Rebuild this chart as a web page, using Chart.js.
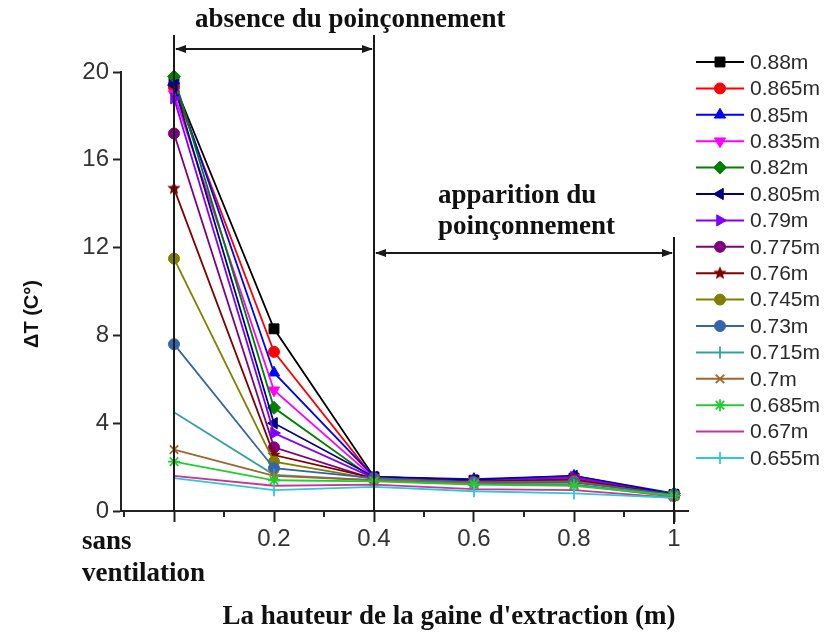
<!DOCTYPE html>
<html>
<head>
<meta charset="utf-8">
<script src="https://cdn.jsdelivr.net/npm/chart.js@4/dist/chart.umd.min.js"></script>
<style>
  html, body { margin: 0; padding: 0; background: #ffffff; }
  #wrap { position: relative; width: 827px; height: 636px; }
</style>
</head>
<body>
<div id="wrap"><canvas id="c" width="827" height="636"></canvas></div>
<script>
// Extraction duct heights (m); 0 stands for "sans ventilation"
const positions = [0, 0.2, 0.4, 0.6, 0.8, 1.0];
const xTickValues = [0, 0.2, 0.4, 0.6, 0.8, 1.0];
const xMinorTicks = [-0.1, 0.1, 0.3, 0.5, 0.7, 0.9];
const yTickValues = [0, 4, 8, 12, 16, 20];

const seriesNames = ['0.88m', '0.865m', '0.85m', '0.835m', '0.82m', '0.805m', '0.79m', '0.775m',
                     '0.76m', '0.745m', '0.73m', '0.715m', '0.7m', '0.685m', '0.67m', '0.655m'];

// Temperature difference ΔT (°C) for each fire height
const dT_088  = [19.5, 8.3,  1.55, 1.40, 1.50, 0.75];
const dT_0865 = [19.3, 7.25, 1.50, 1.35, 1.45, 0.70];
const dT_085  = [19.6, 6.3,  1.55, 1.45, 1.60, 0.80];
const dT_0835 = [19.0, 5.5,  1.50, 1.35, 1.50, 0.75];
const dT_082  = [19.8, 4.7,  1.45, 1.30, 1.30, 0.80];
const dT_0805 = [19.4, 4.0,  1.55, 1.40, 1.60, 0.75];
const dT_079  = [18.8, 3.55, 1.50, 1.35, 1.55, 0.70];
const dT_0775 = [17.2, 2.9,  1.45, 1.30, 1.45, 0.70];
const dT_076  = [14.7, 2.55, 1.50, 1.35, 1.40, 0.75];
const dT_0745 = [11.5, 2.25, 1.45, 1.30, 1.35, 0.70];
const dT_073  = [7.6,  1.95, 1.50, 1.30, 1.30, 0.75];
const dT_0715 = [4.5,  1.65, 1.40, 1.25, 1.20, 0.70];
const dT_07   = [2.8,  1.6,  1.40, 1.25, 1.20, 0.65];
const dT_0685 = [2.25, 1.4,  1.35, 1.20, 1.15, 0.70];
const dT_067  = [1.6,  1.15, 1.20, 1.00, 0.95, 0.60];
const dT_0655 = [1.5,  0.95, 1.10, 0.90, 0.80, 0.60];

const seriesValues = [dT_088, dT_0865, dT_085, dT_0835, dT_082, dT_0805, dT_079, dT_0775,
                      dT_076, dT_0745, dT_073, dT_0715, dT_07, dT_0685, dT_067, dT_0655];

const seriesColors = ['#000000', '#ff0000', '#0000ff', '#ff00ff', '#008000', '#000080', '#8000ff', '#800080',
                      '#800000', '#808000', '#3565a8', '#3a9f9f', '#a0642c', '#22cc33', '#cc3399', '#30c8d8'];

// filled five-point star used as a marker
function starMarker(color, r) {
  const c = document.createElement('canvas');
  const s = Math.ceil(r * 2 + 2);
  c.width = c.height = s;
  const g = c.getContext('2d');
  g.fillStyle = color;
  g.beginPath();
  for (let k = 0; k < 10; k++) {
    const rad = k % 2 ? r * 0.45 : r;
    const a = -Math.PI / 2 + k * Math.PI / 5;
    g.lineTo(s / 2 + rad * Math.cos(a), s / 2 + rad * Math.sin(a));
  }
  g.closePath();
  g.fill();
  return c;
}

const markers = [
  { style: 'rect', radius: 7, rot: 0 },
  { style: 'circle', radius: 5.5, rot: 0 },
  { style: 'triangle', radius: 6.5, rot: 0 },
  { style: 'triangle', radius: 6.5, rot: 180 },
  { style: 'rectRot', radius: 6.5, rot: 0 },
  { style: 'triangle', radius: 6.5, rot: -90 },
  { style: 'triangle', radius: 6.5, rot: 90 },
  { style: 'circle', radius: 5.5, rot: 0 },
  { style: starMarker('#800000', 7), radius: 7, rot: 0 },
  { style: 'circle', radius: 5.5, rot: 0 },
  { style: 'circle', radius: 5.5, rot: 0 },
  { style: 'line', radius: 6, rot: 90 },
  { style: 'crossRot', radius: 6, rot: 0 },
  { style: 'star', radius: 6, rot: 0 },
  { style: 'circle', radius: 0, rot: 0 },
  { style: 'line', radius: 6, rot: 90 }
];

const datasets = seriesNames.map((name, i) => ({
  label: name,
  data: positions.map((x, j) => ({ x: x, y: seriesValues[i][j] })),
  borderColor: seriesColors[i],
  backgroundColor: seriesColors[i],
  pointBackgroundColor: seriesColors[i],
  pointBorderColor: seriesColors[i],
  borderWidth: 1.8,
  pointStyle: markers[i].style,
  pointRadius: markers[i].radius,
  pointRotation: markers[i].rot,
  pointBorderWidth: (markers[i].style === 'line' || markers[i].style === 'crossRot' || markers[i].style === 'star') ? 1.8 : 1,
  tension: 0,
  clip: false,
  // later series are painted over earlier ones
  order: seriesNames.length - 1 - i
}));

const SERIF = '"Liberation Serif", "Times New Roman", serif';
const SANS = '"Liberation Sans", Arial, sans-serif';

function arrowHead(ctx, x, y, dir) {
  ctx.beginPath();
  ctx.moveTo(x, y);
  ctx.lineTo(x - dir * 11, y - 4);
  ctx.lineTo(x - dir * 11, y + 4);
  ctx.closePath();
  ctx.fill();
}

function doubleArrow(ctx, x0, x1, y) {
  ctx.beginPath();
  ctx.moveTo(x0 + 2, y);
  ctx.lineTo(x1 - 2, y);
  ctx.stroke();
  arrowHead(ctx, x0 + 1, y, -1);
  arrowHead(ctx, x1 - 1, y, 1);
}

const decorations = {
  id: 'decorations',
  afterDraw(chart) {
    const ctx = chart.ctx;
    const xs = chart.scales.x;
    const area = chart.chartArea;
    ctx.save();

    // minor ticks on the x axis
    ctx.strokeStyle = '#222';
    ctx.lineWidth = 2;
    xMinorTicks.forEach(v => {
      const px = Math.round(xs.getPixelForValue(v));
      if (px < area.left - 1 || px > area.right + 1) return;
      ctx.beginPath();
      ctx.moveTo(px, area.bottom);
      ctx.lineTo(px, area.bottom + 6);
      ctx.stroke();
    });

    // region boundaries
    const p0 = Math.round(xs.getPixelForValue(0));
    const p4 = Math.round(xs.getPixelForValue(0.4));
    const p10 = Math.round(xs.getPixelForValue(1.0));
    ctx.strokeStyle = '#1a1a1a';
    ctx.fillStyle = '#1a1a1a';
    ctx.lineWidth = 2;
    [[p0, 35, area.bottom], [p4, 35, area.bottom], [p10, 237, area.bottom + 13]].forEach(([x, y0, y1]) => {
      ctx.beginPath();
      ctx.moveTo(x, y0);
      ctx.lineTo(x, y1);
      ctx.stroke();
    });
    ctx.lineWidth = 2;
    doubleArrow(ctx, p0, p4, 49);
    doubleArrow(ctx, p4, p10, 253);

    // region captions
    ctx.fillStyle = '#111';
    ctx.textBaseline = 'alphabetic';
    ctx.textAlign = 'left';
    ctx.font = 'bold 27px ' + SERIF;
    ctx.fillText('absence du poinçonnement', 195, 27);
    ctx.fillText('apparition du', 438, 203);
    ctx.fillText('poinçonnement', 438, 234);

    // label of the first category
    ctx.fillText('sans', 82, 549);
    ctx.fillText('ventilation', 82, 581);

    // axis titles
    ctx.textAlign = 'center';
    ctx.fillText("La hauteur de la gaine d'extraction (m)", 449, 624);
    ctx.save();
    ctx.translate(32, 314);
    ctx.rotate(-Math.PI / 2);
    ctx.font = 'bold 20px ' + SANS;
    ctx.textBaseline = 'middle';
    ctx.fillText('ΔT (C°)', 0, 0);
    ctx.restore();

    // legend: line with its marker, then the series name
    const drawPoint = Chart.helpers && Chart.helpers.drawPoint;
    chart.data.datasets.forEach((ds, i) => {
      const y = 62 + i * 26.4;
      ctx.strokeStyle = ds.borderColor;
      ctx.lineWidth = 2;
      ctx.beginPath();
      ctx.moveTo(696, y);
      ctx.lineTo(744, y);
      ctx.stroke();
      if (drawPoint && ds.pointRadius > 0) {
        ctx.fillStyle = ds.pointBackgroundColor;
        ctx.strokeStyle = ds.pointBorderColor;
        ctx.lineWidth = ds.pointBorderWidth;
        drawPoint(ctx, { pointStyle: ds.pointStyle, rotation: ds.pointRotation, radius: ds.pointRadius, borderWidth: ds.pointBorderWidth }, 720, y);
      }
      ctx.fillStyle = '#2a2a2a';
      ctx.textAlign = 'left';
      ctx.textBaseline = 'middle';
      ctx.font = '21px ' + SANS;
      ctx.fillText(ds.label, 750, y + 1);
    });
    ctx.restore();
  }
};

new Chart(document.getElementById('c'), {
  type: 'line',
  data: { datasets: datasets },
  options: {
    responsive: false,
    animation: false,
    devicePixelRatio: 1,
    layout: { padding: { left: 0, top: 72, right: 139, bottom: 0 } },
    plugins: { legend: { display: false }, tooltip: { enabled: false } },
    scales: {
      x: {
        type: 'linear',
        min: -0.106,
        max: 1.028,
        afterBuildTicks: s => { s.ticks = xTickValues.map(v => ({ value: v })); },
        afterFit: s => { s.height = 125; },
        ticks: {
          color: '#333',
          font: { family: SANS, size: 24 },
          padding: 3,
          maxRotation: 0,
          autoSkip: false,
          callback: v => (v === 0 ? '' : String(Math.round(v * 10) / 10))
        },
        grid: { display: true, drawOnChartArea: false, drawTicks: true, tickLength: 11, tickColor: '#222', tickWidth: 2 },
        border: { display: true, color: '#222', width: 2 }
      },
      y: {
        min: 0,
        max: 20,
        afterBuildTicks: s => { s.ticks = yTickValues.map(v => ({ value: v })); },
        afterFit: s => { s.width = 121; },
        ticks: { color: '#333', font: { family: SANS, size: 24 }, padding: 4 },
        grid: { display: true, drawOnChartArea: false, drawTicks: true, tickLength: 8, tickColor: '#222', tickWidth: 2 },
        border: { display: true, color: '#222', width: 2 }
      }
    }
  },
  plugins: [decorations]
});
</script>
</body>
</html>
